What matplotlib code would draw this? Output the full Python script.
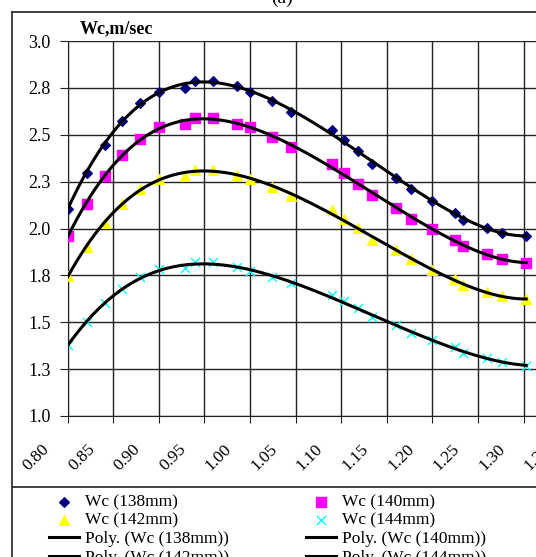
import numpy as np
import matplotlib.pyplot as plt
from matplotlib.lines import Line2D
from matplotlib.transforms import ScaledTranslation

plt.rcParams['font.family'] = ['Liberation Serif', 'DejaVu Serif']

# --------------------------------------------------
# data
# --------------------------------------------------
x = [0.800, 0.821, 0.841, 0.860, 0.880, 0.900, 0.929, 0.940, 0.959, 0.986,
     1.000, 1.024, 1.045, 1.090, 1.103, 1.118, 1.134, 1.160, 1.177, 1.200,
     1.225, 1.234, 1.260, 1.276, 1.303]

wc138 = [2.106, 2.296, 2.448, 2.576, 2.670, 2.730, 2.750, 2.789, 2.789, 2.758,
         2.730, 2.679, 2.619, 2.527, 2.470, 2.411, 2.346, 2.271, 2.213, 2.149,
         2.083, 2.048, 2.005, 1.977, 1.959]
wc140 = [1.959, 2.133, 2.278, 2.394, 2.477, 2.539, 2.558, 2.592, 2.592, 2.558,
         2.539, 2.487, 2.436, 2.346, 2.296, 2.239, 2.181, 2.112, 2.053, 2.000,
         1.938, 1.907, 1.863, 1.837, 1.817]
wc142 = [1.745, 1.902, 2.030, 2.133, 2.213, 2.266, 2.278, 2.314, 2.314, 2.287,
         2.266, 2.221, 2.175, 2.097, 2.050, 2.005, 1.941, 1.888, 1.835, 1.778,
         1.730, 1.698, 1.660, 1.641, 1.622]
wc144 = [1.378, 1.499, 1.601, 1.677, 1.739, 1.782, 1.787, 1.819, 1.819, 1.796,
         1.774, 1.743, 1.707, 1.645, 1.615, 1.574, 1.526, 1.486, 1.441, 1.405,
         1.367, 1.338, 1.308, 1.290, 1.269]

xticks = [0.80, 0.85, 0.90, 0.95, 1.00, 1.05, 1.10, 1.15, 1.20, 1.25, 1.30, 1.35]
xtick_labels = ['0.80', '0.85', '0.90', '0.95', '1.00', '1.05', '1.10', '1.15',
                '1.20', '1.25', '1.30', '1.35']
yticks = [1.0, 1.25, 1.5, 1.75, 2.0, 2.25, 2.5, 2.75, 3.0]
ytick_labels = ['1.0', '1.3', '1.5', '1.8', '2.0', '2.3', '2.5', '2.8', '3.0']

series = [
    ('Wc (138mm)', wc138, dict(marker='D', color='#000080', s=24)),
    ('Wc (140mm)', wc140, dict(marker='s', color='#FF00FF', s=42)),
    ('Wc (142mm)', wc142, dict(marker='^', color='#FFFF00', s=48)),
    ('Wc (144mm)', wc144, dict(marker='x', color='#00FFFF', s=42, linewidths=1.0)),
]

W, H = 536, 557
fig = plt.figure(figsize=(W / 100, H / 100), dpi=100)
ax = fig.add_axes([67.5 / W, 1 - 416 / H, 0.55 * 912 / W, 375 / H])

xs = np.array(x)
xf = np.linspace(xs.min(), xs.max(), 300)
pts, fits = {}, {}
for name, y, style in series:
    pts[name] = ax.scatter(xs, y, zorder=3, label=name, **style)
    p = np.polynomial.Polynomial.fit(xs, y, 6)
    fits[name], = ax.plot(xf, p(xf), color='black', lw=2.2, zorder=4,
                          label='Poly. (' + name + ')')

ax.set_xlim(0.80, 1.35)
ax.set_ylim(1.0, 3.0)
ax.set_xticks(xticks)
ax.set_xticklabels(xtick_labels, rotation=45, ha='right', va='top', fontsize=12.5)
ax.set_yticks(yticks)
ax.set_yticklabels(ytick_labels, fontsize=13)
ax.grid(True, color='#222222', lw=1.0)
ax.set_axisbelow(True)
ax.tick_params(axis='x', length=5, pad=13, color='#222222')
ax.tick_params(axis='y', length=6, pad=6, color='#222222')
for side in ['top', 'right']:
    ax.spines[side].set_visible(False)
for side in ['left', 'bottom']:
    ax.spines[side].set_color('#222222')

shift = ScaledTranslation(-0.15, 0, fig.dpi_scale_trans)
for lbl in ax.get_xticklabels():
    lbl.set_transform(lbl.get_transform() + shift)

fig.text(80 / W, 1 - 29 / H, 'Wc,m/sec', fontsize=13, fontweight='bold',
         va='center', ha='left')
fig.text(282 / W, 1 + 2 / H, '(a)', fontsize=14, va='center', ha='center')

# outer chart frame and legend separator
fr = dict(transform=fig.transFigure, color='#333333', lw=1.3)
fig.add_artist(Line2D([12 / W, 12 / W], [0, 1 - 12 / H], **fr))
fig.add_artist(Line2D([12 / W, 1], [1 - 12 / H, 1 - 12 / H], **fr))
fig.add_artist(Line2D([12 / W, 1], [1 - 487 / H, 1 - 487 / H], **fr))

names = [s[0] for s in series]
col1 = [pts[names[0]], pts[names[2]], fits[names[0]], fits[names[2]]]
col2 = [pts[names[1]], pts[names[3]], fits[names[1]], fits[names[3]]]
for handles, x0 in [(col1, 49 / W), (col2, 306 / W)]:
    fig.legend(handles=handles, labels=[h.get_label() for h in handles],
               loc='upper left', bbox_to_anchor=(x0, 1 - 494 / H),
               frameon=False, fontsize=12.5, handlelength=1.75, handletextpad=0.3,
               labelspacing=0.14, borderpad=0, borderaxespad=0, scatterpoints=1)

fig.savefig('out.png', dpi=100)
